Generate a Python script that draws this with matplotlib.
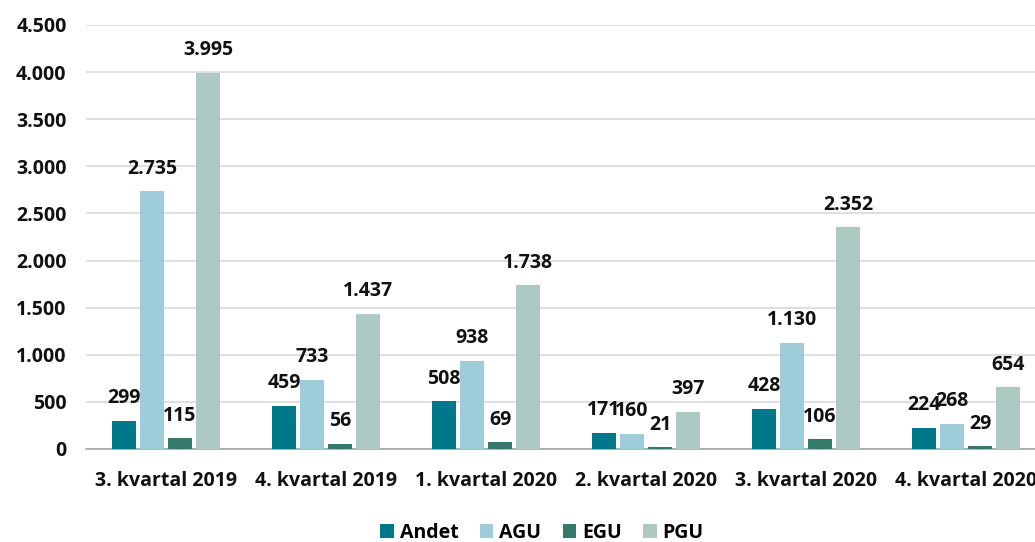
import matplotlib
matplotlib.use("Agg")
import matplotlib.pyplot as plt
import numpy as np

categories = ["3. kvartal 2019", "4. kvartal 2019", "1. kvartal 2020",
              "2. kvartal 2020", "3. kvartal 2020", "4. kvartal 2020"]
series_names = ["Andet", "AGU", "EGU", "PGU"]
andet = [299, 459, 508, 171, 428, 224]
agu = [2735, 733, 938, 160, 1130, 268]
egu = [115, 56, 69, 21, 106, 29]
pgu = [3995, 1437, 1738, 397, 2352, 654]
colors = ["#00788C", "#9ECCD8", "#367A6C", "#AEC9C3"]
yticks = [0, 500, 1000, 1500, 2000, 2500, 3000, 3500, 4000, 4500]

plt.rcParams['font.family'] = ['Open Sans', 'DejaVu Sans']
FS = 14

def fmt(v):
    return f"{v:,}".replace(",", ".")

fig = plt.figure(figsize=(10.35, 5.42), dpi=100)
ax = fig.add_axes([86/1035, 93/542, 960/1035, 424/542])

x = np.arange(len(categories))
bw = 0.155
step = 0.175
data = [andet, agu, egu, pgu]
for i, (name, vals, c) in enumerate(zip(series_names, data, colors)):
    pos = x + (i - 1.5) * step
    ax.bar(pos, vals, width=bw, color=c, label=name, zorder=3)
    for p, v in zip(pos, vals):
        ax.annotate(fmt(v), (p, v), xytext=(0, 9), textcoords="offset points",
                    ha="center", va="bottom", fontsize=FS, fontweight="bold",
                    color="#111111")

ax.set_xlim(-0.5, len(categories) - 0.5)
ax.set_ylim(0, 4500)
ax.set_yticks(yticks)
ax.set_yticklabels([fmt(v) for v in yticks], fontsize=FS, fontweight="bold")
ax.set_xticks(x)
ax.set_xticklabels(categories, fontsize=FS, fontweight="bold")
ax.tick_params(axis="both", length=0, colors="#111111")
ax.tick_params(axis="y", pad=14)
ax.tick_params(axis="x", pad=16)
ax.yaxis.grid(True, color="#D9D9D9", linewidth=1.2, zorder=0)
for s in ["top", "right", "left"]:
    ax.spines[s].set_visible(False)
ax.spines["bottom"].set_color("#A6A6A6")
ax.spines["bottom"].set_linewidth(1.2)

handles, labels = ax.get_legend_handles_labels()
fig.legend(handles, labels, loc="center", bbox_to_anchor=(542/1035, 1 - 533/542),
           ncol=4, frameon=False, handlelength=0.7, handleheight=0.7,
           handletextpad=0.3, columnspacing=1.1, prop={'weight': 'bold', 'size': FS})

fig.savefig("out.png", dpi=100)
